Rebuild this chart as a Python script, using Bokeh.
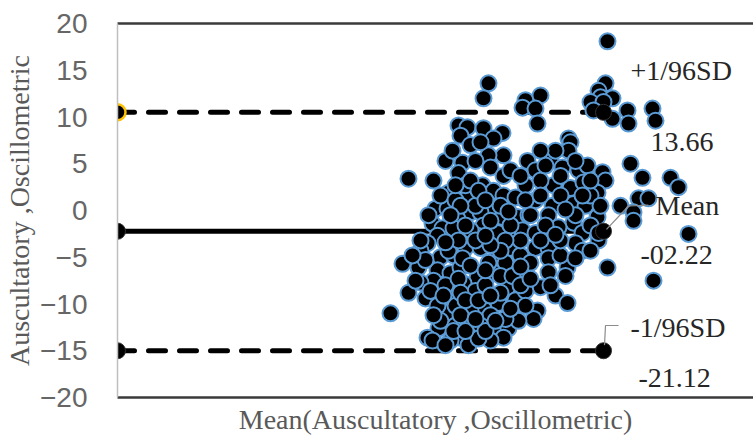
from bokeh.plotting import figure
from bokeh.models import Range1d, LinearAxis, FixedTicker, ColumnDataSource
from bokeh.core.properties import value
from bokeh.embed import file_html
from bokeh.resources import INLINE

# ---------------- data ----------------
mean_bp = [
    138.0, 114.2, 113.2, 121.6, 124.6, 121.0, 123.6, 124.0, 130.2, 137.6,
    136.2, 136.6, 139.0, 134.6, 137.2, 135.2, 142.0, 139.0, 142.2, 147.0,
    147.6, 108.2, 110.0, 113.2, 117.0, 115.2, 98.2, 103.2, 109.0, 108.2,
    106.2, 110.0, 103.6, 106.0, 110.6, 108.0, 103.0, 105.0, 107.2, 104.0,
    117.2, 114.2, 114.6, 117.2, 118.6, 113.0, 115.2, 117.2, 119.6, 115.2,
    117.0, 120.0, 112.6, 113.2, 116.0, 112.0, 119.2, 108.6, 130.6, 130.2,
    122.0, 123.6, 126.6, 129.0, 132.2, 134.0, 137.0, 137.6, 127.2, 130.6,
    133.2, 136.0, 142.6, 145.0, 150.6, 152.2, 123.6, 127.0, 131.2, 133.6,
    140.6, 144.2, 146.2, 143.2, 143.2, 122.2, 126.2, 131.2, 136.0, 121.0,
    123.6, 128.2, 133.0, 154.2, 102.0, 97.0, 100.2, 98.2, 101.6, 94.6,
    104.6, 107.2, 104.0, 106.6, 109.6, 112.6, 116.0, 118.6, 115.6, 118.0,
    108.6, 112.0, 109.2, 111.6, 106.6, 103.2, 106.0, 110.2, 113.2, 116.2,
    104.2, 102.0, 108.6, 106.6, 111.2, 116.0, 118.2, 119.2, 117.2, 103.0,
    123.6, 126.2, 131.6, 133.0, 126.2, 121.6, 126.2, 130.0, 129.6, 124.6,
    127.6, 130.0, 124.0, 123.2, 120.2, 138.0, 147.2, 100.6, 106.2, 109.0,
    114.2, 117.6, 120.6, 122.6, 128.6, 100.6, 105.6, 108.2, 113.6, 116.6,
    119.6, 121.6, 104.0, 107.6, 110.6, 114.6, 117.6, 121.6, 104.6, 107.6,
    112.6, 114.6, 105.6, 110.2, 112.2, 104.6, 107.6, 111.6, 114.6, 118.6,
    120.6, 117.6, 110.6, 108.2, 105.6, 124.6, 128.6, 125.6, 134.6, 131.6,
    128.6, 134.6, 121.6, 105.6, 107.0, 110.6, 111.6, 112.6, 109.6, 136.2,
    102.2, 101.6, 102.6, 103.2, 105.2, 108.6, 109.6, 112.2, 114.6, 110.6,
    113.6, 116.6, 119.0, 120.6, 116.6, 114.6, 111.6, 109.6, 113.6, 116.6,
    118.2, 121.6, 124.6, 122.6, 124.6, 127.6, 129.6, 133.0, 136.6, 125.6,
    128.6, 131.6, 134.6, 127.6, 124.6, 120.6, 110.6, 107.6, 108.6, 112.2,
    113.6, 106.6, 100.6, 99.0, 99.6, 107.2, 109.6, 113.6, 115.6, 118.6,
    108.6, 111.6, 122.6, 126.6, 131.6, 134.6, 136.2, 120.6,
]
diff_bp = [
    18.1, 13.6, 12.0, 11.8, 12.3, 11.0, 10.9, 9.3, 7.7, 13.6,
    12.8, 12.1, 12.0, 11.6, 11.6, 10.7, 10.7, 9.8, 9.3, 10.9,
    9.6, 9.1, 8.9, 8.8, 8.3, 7.7, 3.4, 3.2, 5.1, 4.0,
    1.9, 1.3, 0.2, 0.2, -0.2, -0.9, -1.4, -1.9, -1.9, -2.7,
    5.9, 5.9, 4.6, 3.7, 4.3, 2.7, 2.1, 1.6, 1.4, 0.3,
    -0.7, -0.7, -0.2, -1.6, -2.4, -2.7, -2.4, 8.0, 7.3, 6.4,
    5.3, 4.3, 5.3, 4.6, 4.3, 4.8, 4.1, 3.2, 2.7, 2.4,
    3.0, 1.9, 5.0, 3.5, 3.5, 2.5, 1.1, 0.5, 0.7, 0.5,
    0.5, 1.3, 1.3, -0.2, -1.1, -0.5, -0.5, -1.3, -0.7, -2.1,
    -2.4, -1.8, -2.4, -2.5, -3.5, -5.7, -6.1, -8.8, -9.4, -11.0,
    -5.0, -4.8, -6.4, -6.7, -4.0, -4.0, -5.0, -4.0, -6.7, -8.2,
    -6.1, -7.2, -7.8, -8.6, -9.3, -7.5, -10.9, -11.8, -10.5, -9.9,
    -12.6, -13.6, -13.6, -13.9, -13.2, -12.5, -12.6, -11.4, -13.6, -13.9,
    -4.0, -4.0, -3.5, -4.3, -5.1, -6.4, -6.6, -6.1, -7.0, -8.2,
    -9.1, -9.9, -10.7, -11.6, -11.8, -6.1, -7.5, -4.3, -4.3, -5.1,
    -5.6, -5.6, -4.8, -5.6, -4.8, -7.7, -8.0, -7.3, -8.0, -8.8,
    -9.6, -8.6, -10.2, -10.2, -10.7, -11.2, -11.6, -10.2, -11.8, -12.3,
    -12.3, -13.9, -14.4, -14.4, -13.7, 1.6, 1.1, 0.5, -1.1, -1.6,
    -3.2, -3.2, -2.1, -3.2, -3.4, 3.2, 1.6, -1.6, 1.6, -0.5,
    -3.2, -1.6, 2.7, 5.3, 6.4, 7.0, 5.3, 7.3, 2.7, -3.2,
    -0.5, -5.3, -8.6, -11.2, -9.1, -8.8, -9.6, -9.6, -9.1, -5.9,
    -6.4, -7.0, -7.0, -8.0, -4.3, -3.7, -3.2, -1.6, -2.7, 0.5,
    -0.1, 1.1, 1.6, -0.5, -3.2, -2.6, 0.1, 1.6, 0.5, 4.8,
    3.7, 5.3, 3.2, 6.4, 6.4, 3.7, 3.2, 2.7, 0.5, 2.1,
    1.1, -0.5, -3.2, -4.8, -7.5, -12.9, -12.9, -12.9, -11.8, -10.5,
    -11.2, -11.6, -7.3, -8.0, -5.1, -4.3, -2.4, -6.0,
]

upper_loa = 10.5
mean_diff = -2.22
lower_loa = -15.0
line_x = [40.0, 137.2]

y_ticks = [-20, -15, -10, -5, 0, 5, 10, 15, 20]

label_x = [142.6, 146.6, 147.6, 144.6, 142.6, 144.2]
label_y = [15.0, 7.3, 0.5, -4.8, -12.5, -17.9]
label_text = ["+1/96SD", "13.66", "Mean", "-02.22", "-1/96SD", "-21.12"]

y_title = "Auscultatory ,Oscillometric"
x_title = "Mean(Auscultatory ,Oscillometric)"

# ---------------- figure ----------------
SERIF = "Liberation Serif"
SANS = "Liberation Sans"

p = figure(width=753, height=437, output_backend="svg", toolbar_location=None,
           x_range=Range1d(40, 167.2), y_range=Range1d(-20, 20),
           min_border_left=117, min_border_right=0, min_border_top=23,
           min_border_bottom=40)
p.outline_line_color = None
p.grid.visible = False
p.background_fill_color = "white"

# y axis
ya = p.yaxis[0]
ya.ticker = FixedTicker(ticks=y_ticks)
ya.major_tick_out = 0
ya.major_tick_in = 0
ya.minor_tick_out = 0
ya.minor_tick_in = 0
ya.major_label_standoff = 30
ya.major_label_text_font = SANS
ya.major_label_text_font_size = "28px"
ya.major_label_text_color = "#666666"
ya.axis_line_color = "#bfbfbf"
ya.axis_line_width = 1.5
ya.axis_label = y_title
ya.axis_label_text_font = SERIF
ya.axis_label_text_font_style = "normal"
ya.axis_label_text_font_size = "28px"
ya.axis_label_text_color = "#595959"
ya.axis_label_standoff = 2

# x axis
xa = p.xaxis[0]
xa.ticker = FixedTicker(ticks=[])
xa.major_tick_out = 0
xa.major_tick_in = 0
xa.minor_tick_out = 0
xa.minor_tick_in = 0
xa.major_label_standoff = 0
xa.major_label_text_font_size = "0px"
xa.axis_line_color = "#3a3a3a"
xa.axis_line_width = 2.5
xa.axis_label = x_title
xa.axis_label_text_font = SERIF
xa.axis_label_text_font_style = "normal"
xa.axis_label_text_font_size = "28px"
xa.axis_label_text_color = "#595959"
xa.axis_label_standoff = 6

# top border line
top = LinearAxis(ticker=FixedTicker(ticks=[]), major_label_text_font_size="0px",
                 major_tick_out=0, major_tick_in=0, minor_tick_out=0, minor_tick_in=0,
                 major_label_standoff=0, axis_line_color="#3a3a3a", axis_line_width=2.5)
p.add_layout(top, "above")

# limit / mean lines
p.line(line_x, [upper_loa, upper_loa], line_color="black", line_width=5,
       line_dash="17 14", line_cap="round")
p.line(line_x, [mean_diff, mean_diff], line_color="black", line_width=5)
p.line(line_x, [lower_loa, lower_loa], line_color="black", line_width=5,
       line_dash="17 14", line_cap="round")

# data points
src = ColumnDataSource(dict(x=mean_bp, y=diff_bp))
p.scatter("x", "y", source=src, size=16, fill_color="black",
          line_color="#5b9bd5", line_width=2)

# line end markers
p.scatter(line_x, [mean_diff, mean_diff], size=16, fill_color="black",
          line_color="#333333", line_width=1)
p.scatter(line_x, [lower_loa, lower_loa], size=16, fill_color="black",
          line_color="#333333", line_width=1)
p.scatter([line_x[1]], [upper_loa], size=16, fill_color="black",
          line_color="#333333", line_width=1)
p.scatter([line_x[0]], [upper_loa], size=16, fill_color="black",
          line_color="#ffc000", line_width=2.5)

# leader lines for the labels
xe = line_x[1]
p.line([xe + 0.6, xe + 5.0, xe + 9.0], [mean_diff + 0.2, mean_diff + 2.7, mean_diff + 2.8],
       line_color="#8c8c8c", line_width=1.2)
p.line([xe + 0.2, xe + 0.4, xe + 3.0], [lower_loa + 0.6, lower_loa + 2.7, lower_loa + 2.7],
       line_color="#8c8c8c", line_width=1.2)

# labels
lsrc = ColumnDataSource(dict(x=label_x, y=label_y, t=label_text))
p.text("x", "y", text="t", source=lsrc, text_font=value(SERIF),
       text_font_size="28px", text_color="#262626", text_align="left",
       text_baseline="middle")

open("out.html", "w").write(file_html(p, INLINE))
